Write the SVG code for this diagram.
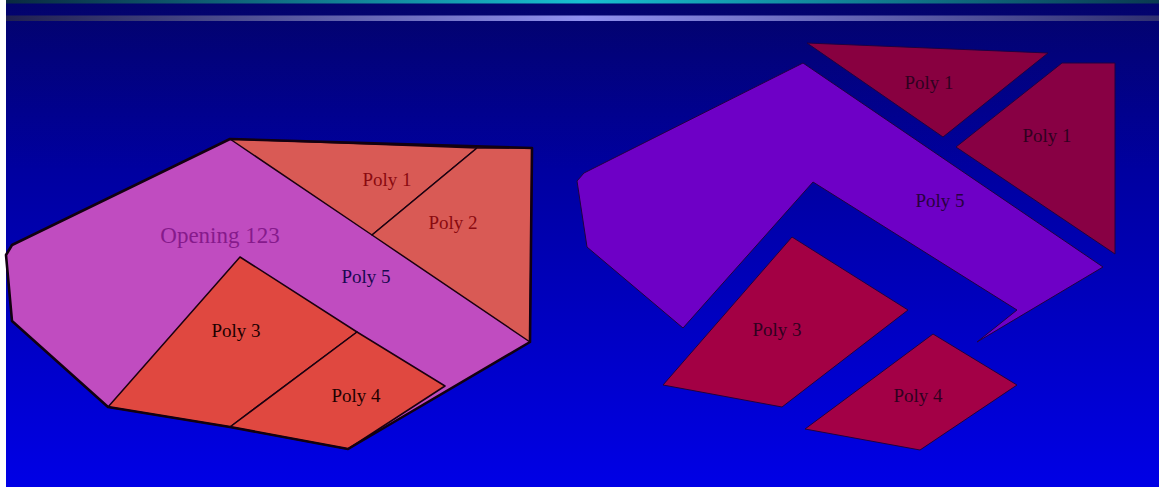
<svg xmlns="http://www.w3.org/2000/svg" width="1159" height="487" viewBox="0 0 1159 487">
<defs>
<linearGradient id="bg" x1="0" y1="0" x2="0" y2="1">
<stop offset="0" stop-color="#03036a"/>
<stop offset="0.35" stop-color="#0000a0"/>
<stop offset="1" stop-color="#0000e6"/>
</linearGradient>
<linearGradient id="cyan" x1="0" y1="0" x2="1" y2="0">
<stop offset="0" stop-color="#0a2a40"/>
<stop offset="0.5" stop-color="#18c0d0"/>
<stop offset="1" stop-color="#0a3a50"/>
</linearGradient>
<linearGradient id="lav" x1="0" y1="0" x2="1" y2="0">
<stop offset="0" stop-color="#202050"/>
<stop offset="0.5" stop-color="#9090f0"/>
<stop offset="1" stop-color="#303070"/>
</linearGradient>
<style>
.lbl{font-family:"Liberation Serif","Times New Roman",serif;font-size:19px;text-anchor:middle}
.thin{stroke:#1a0010;stroke-width:1.5;stroke-linejoin:round}
.r{stroke:#200040;stroke-width:1;stroke-linejoin:round}
</style>
</defs>
<rect x="0" y="0" width="1159" height="487" fill="#ffffff"/>
<rect x="6" y="0" width="1153" height="487" fill="url(#bg)"/>
<rect x="6" y="0" width="1153" height="3.5" fill="url(#cyan)"/>
<rect x="6" y="15.5" width="1153" height="5.5" fill="url(#lav)"/>

<g id="left-figure">
<g id="opening-123">
<polygon points="230,139 532,148 530,342 348,449 230,427 108,407 12,321 6,255 12,245" fill="#c04cc0"/>
<text class="lbl" x="220" y="243" font-size="23" fill="#861a8c" style="font-size:23px">Opening 123</text>
</g>
<g id="l-poly1">
<polygon class="thin" points="230,139 477,148 372,235" fill="#d95a55"/>
<text class="lbl" x="387" y="186" fill="#8a0a10">Poly 1</text>
</g>
<g id="l-poly2">
<polygon class="thin" points="477,148 532,148 530,342 372,235" fill="#d95a55"/>
<text class="lbl" x="453" y="229" fill="#8a0a10">Poly 2</text>
</g>
<g id="l-poly5">
<text class="lbl" x="366" y="283" fill="#1a0850">Poly 5</text>
</g>
<g id="l-poly3">
<polygon class="thin" points="240,257 357,332 230,427 108,407" fill="#e04840"/>
<text class="lbl" x="236" y="337" fill="#200000">Poly 3</text>
</g>
<g id="l-poly4">
<polygon class="thin" points="357,332 445,386 348,449 230,427" fill="#e04840"/>
<text class="lbl" x="356" y="402" fill="#200000">Poly 4</text>
</g>
<polygon points="230,139 532,148 530,342 348,449 230,427 108,407 12,321 6,255 12,245" fill="none" stroke="#120010" stroke-width="2.6" stroke-linejoin="round"/>
</g>

<g id="right-figure">
<g id="r-poly5">
<polygon class="r" points="803,63 1103,267 977,342 1017,310 813,182 683,328 587,247 577,181 584,173" fill="#6e00c6"/>
<text class="lbl" x="940" y="207" fill="#280040">Poly 5</text>
</g>
<g id="r-poly1-top">
<polygon class="r" points="807,43 1048,53 943,137" fill="#880040"/>
<text class="lbl" x="929" y="89" fill="#300020">Poly 1</text>
</g>
<g id="r-poly1-right">
<polygon class="r" points="1062,63 1115,63 1115,254 956,147" fill="#880044"/>
<text class="lbl" x="1047" y="142" fill="#300020">Poly 1</text>
</g>
<g id="r-poly3">
<polygon class="r" points="792,237 908,310 782,407 663,385" fill="#a30044"/>
<text class="lbl" x="777" y="336" fill="#300020">Poly 3</text>
</g>
<g id="r-poly4">
<polygon class="r" points="933,334 1017,385 920,450 805,429" fill="#a30046"/>
<text class="lbl" x="918" y="402" fill="#300020">Poly 4</text>
</g>
</g>
<g id="connectors"/>
</svg>
